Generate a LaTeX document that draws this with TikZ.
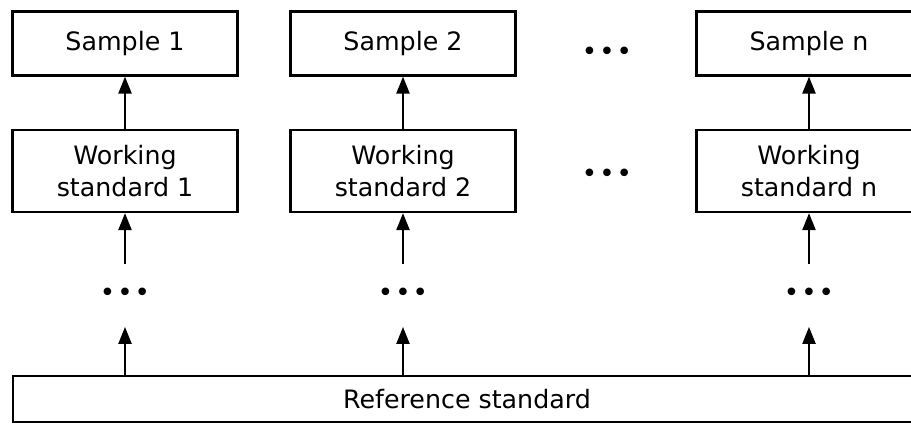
\documentclass[tikz,border=0pt]{standalone}
\usepackage{fontspec}
\setmainfont{DejaVu Sans}
\usetikzlibrary{arrows.meta,positioning}
\tikzset{
  flowarr/.style={-{Triangle[length=0.42cm,width=0.33cm]}, line width=1pt},
  flowbox/.style={draw, line width=1.7pt, align=center, inner sep=0pt, minimum width=5.625cm},
  flowdots/.style={inner sep=0pt, font=\fontsize{18.5}{18.5}\selectfont},
}
\newcommand{\onedot}{\makebox[0.435cm]{\textbullet}}
\newcommand{\threedots}{\onedot\onedot\onedot}

\begin{document}
\begin{tikzpicture}[
  x=0.025cm, y=-0.025cm,
  font=\fontsize{18}{23}\selectfont,
  smp/.style={flowbox, minimum height=1.6cm},
  wrk/.style={flowbox, minimum height=2.05cm},
]
  \clip (0,0) rectangle (911,424);
  \node[smp] (s1) at (125,43.5) {Sample 1};
  \node[smp] (s2) at (403,43.5) {Sample 2};
  \node[smp] (sn) at (809,43.5) {Sample n};
  \node[wrk] (w1) at (125,171) {Working\\standard 1};
  \node[wrk] (w2) at (403,171) {Working\\standard 2};
  \node[wrk] (wn) at (809,171) {Working\\standard n};
  \node[flowbox, minimum width=22.7cm, minimum height=1.15cm] (ref) at (467,399) {Reference standard};
  \node[flowdots] (ts) at (607,54) {\threedots};
  \node[flowdots] (tw) at (607,176) {\threedots};
  \node[flowdots] (d1) at (125,295) {\threedots};
  \node[flowdots] (d2) at (403,295) {\threedots};
  \node[flowdots] (dn) at (809,295) {\threedots};
  \draw[flowarr] (w1) -- (s1);
  \draw[flowarr] (w2) -- (s2);
  \draw[flowarr] (wn) -- (sn);
  \draw[flowarr, shorten <=0.775cm] (d1.center) -- (w1);
  \draw[flowarr, shorten <=0.775cm] (d2.center) -- (w2);
  \draw[flowarr, shorten <=0.775cm] (dn.center) -- (wn);
  \draw[flowarr, shorten >=0.8cm] (ref.north -| d1) -- (d1.center);
  \draw[flowarr, shorten >=0.8cm] (ref.north -| d2) -- (d2.center);
  \draw[flowarr, shorten >=0.8cm] (ref.north -| dn) -- (dn.center);
\end{tikzpicture}
\end{document}
